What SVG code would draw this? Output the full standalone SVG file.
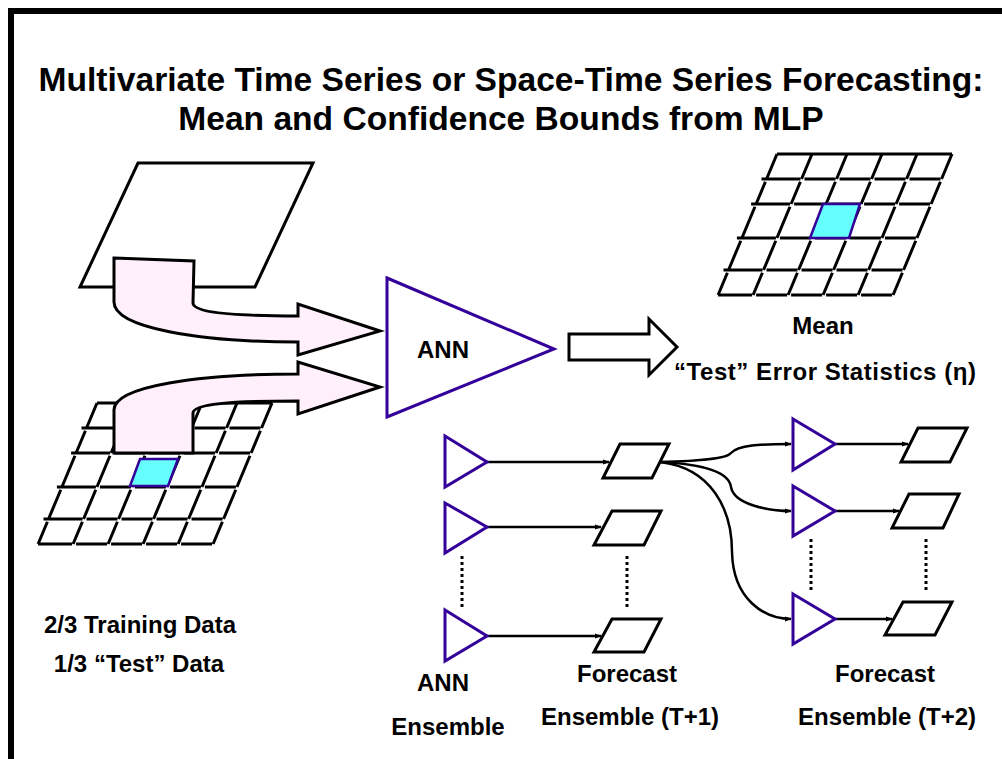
<svg xmlns="http://www.w3.org/2000/svg" xmlns:xlink="http://www.w3.org/1999/xlink" width="1002" height="759" viewBox="0 0 1002 759">
  <style>
    text { font-family: "Liberation Sans", Arial, sans-serif; font-weight: bold; fill: #000; }
    .title { font-size: 33.6px; text-anchor: middle; }
    .lbl { font-size: 24px; text-anchor: middle; }
    .gridrow { fill: none; stroke: #000; stroke-width: 3; stroke-dasharray: 39 4 31 4 31 4 31 4 31 9; }
    .gridrow-last { fill: none; stroke: #000; stroke-width: 3; stroke-dasharray: 34 4 31 4 31 4 31 4 31 9; }
    .gridcol { fill: none; stroke: #000; stroke-width: 3; stroke-dasharray: 27.1 3 24.1 3 33.8 3 31.7 3 24.1 3; }
    .gridtop { fill: none; stroke: #000; stroke-width: 3; }
    .cell { fill: #66FFFF; stroke: #330099; stroke-width: 2.5; }
    .sheet { fill: #fff; stroke: #000; stroke-width: 3; stroke-linejoin: miter; }
    .neuron { fill: #fff; stroke: #330099; stroke-width: 3; }
    .flow { fill: #FFF0FC; stroke: #000; stroke-width: 3; stroke-linejoin: miter; }
    .hollow { fill: #fff; stroke: #000; stroke-width: 3; }
    .link { fill: none; stroke: #000; stroke-width: 2.5; marker-end: url(#ah); }
    .dots { fill: none; stroke: #000; stroke-width: 3; stroke-dasharray: 3 3; }
  </style>
  <defs>
    <marker id="ah" markerWidth="8" markerHeight="8" refX="6" refY="4" orient="auto" markerUnits="userSpaceOnUse">
      <path d="M0,1.5 L7,4 L0,6.5 Z" fill="#000"/>
    </marker>
    <!-- 5x5 slanted field grid, origin at top-left corner -->
    <g id="grid">
      <path class="gridtop" d="M0,0 H175"/>
      <path class="gridrow" d="M-15.5,25 h180"/>
      <path class="gridrow" d="M-25.9,50 h180"/>
      <path class="gridrow" d="M-40.1,84 h180"/>
      <path class="gridrow" d="M-53.5,116 h180"/>
      <path class="gridrow-last" d="M-58.9,141 h180"/>
      <path class="gridcol" d="M0,0 l-58.9,141"/>
      <path class="gridcol" d="M35,0 l-58.9,141"/>
      <path class="gridcol" d="M70,0 l-58.9,141"/>
      <path class="gridcol" d="M105,0 l-58.9,141"/>
      <path class="gridcol" d="M140,0 l-58.9,141"/>
      <path class="gridcol" d="M175,0 l-58.9,141"/>
    </g>
  </defs>

  <rect width="1002" height="759" fill="#fff"/>
  <!-- frame -->
  <rect x="11" y="11" width="1010" height="780" fill="none" stroke="#000" stroke-width="6"/>

  <!-- title -->
  <text class="title" x="511" y="91">Multivariate Time Series or Space-Time Series Forecasting:</text>
  <text class="title" x="501" y="130">Mean and Confidence Bounds from MLP</text>

  <!-- input data sheet -->
  <g id="input-sheet">
    <polygon class="sheet" points="138,163 313,163 255,287 80,287"/>
  </g>

  <!-- input data grid -->
  <g id="input-grid">
    <use xlink:href="#grid" href="#grid" transform="translate(97,403)"/>
    <polygon class="cell" points="140,459 178,459 168,486 130,486"/>
  </g>

  <!-- flows into the network -->
  <g id="flow-upper">
    <path class="flow" d="M114,258 L194,261 L193,303 C193,312 230,316 298,316 L298,304 L380,331 L298,355 L298,342 C200,342 114,328 114,302 Z"/>
  </g>
  <g id="flow-lower">
    <path class="flow" d="M114,453 L114,410 C114,386 200,374 298,374 L298,362 L380,387 L298,414 L298,401 C230,401 193,404 193,413 L193,453 Z"/>
  </g>

  <!-- main network -->
  <g id="ann">
    <polygon class="neuron" points="387,278 554,349 387,417"/>
    <text class="lbl" x="443" y="358">ANN</text>
  </g>

  <!-- output arrow -->
  <g id="out-arrow">
    <path class="hollow" d="M569,334 L649,334 L649,319 L677,347 L649,375 L649,360 L569,360 Z"/>
  </g>

  <!-- mean output grid -->
  <g id="mean-grid">
    <use xlink:href="#grid" href="#grid" transform="translate(777,154)"/>
    <polygon class="cell" points="823,204 860,204 849,238 810,238"/>
    <text class="lbl" x="823" y="334">Mean</text>
  </g>

  <text class="lbl" x="976" y="380" style="text-anchor:end" textLength="302" lengthAdjust="spacing">“Test” Error Statistics (η)</text>

  <!-- data split labels -->
  <text class="lbl" x="140" y="633">2/3 Training Data</text>
  <text class="lbl" x="139" y="672">1/3 “Test” Data</text>

  <!-- connectors -->
  <g id="connectors">
    <path class="link" d="M487,462 H609"/>
    <path class="link" d="M487,527 H601"/>
    <path class="link" d="M487,636 H601"/>
    <path class="link" d="M835,444 H908"/>
    <path class="link" d="M835,511 H899"/>
    <path class="link" d="M835,619 H892"/>
    <path class="link" d="M660,462 C700,461 726,459 731,453 C738,445 760,444 791,444"/>
    <path class="link" d="M660,462 C700,464 729,471 731,487 C734,505 770,511 791,511"/>
    <path class="link" d="M660,462 C712,468 732,510 732,552 C733,600 765,619 791,619"/>
    <path class="dots" d="M462,556 V609"/>
    <path class="dots" d="M627,556 V609"/>
    <path class="dots" d="M811,539 V593"/>
    <path class="dots" d="M926,539 V593"/>
  </g>

  <!-- ANN ensemble -->
  <g id="ens-ann-1"><polygon class="neuron" points="445,436 487,462 445,487"/></g>
  <g id="ens-ann-2"><polygon class="neuron" points="445,503 487,527 445,553"/></g>
  <g id="ens-ann-n"><polygon class="neuron" points="445,610 487,636 445,661"/></g>

  <!-- forecast ensemble T+1 -->
  <g id="fc1-1"><polygon class="sheet" points="620,444 669,444 652,478 603,478"/></g>
  <g id="fc1-2"><polygon class="sheet" points="612,511 661,511 644,545 594,545"/></g>
  <g id="fc1-n"><polygon class="sheet" points="612,619 661,619 644,652 594,652"/></g>

  <!-- second-step networks -->
  <g id="ann2-1"><polygon class="neuron" points="793,419 835,444 793,470"/></g>
  <g id="ann2-2"><polygon class="neuron" points="793,486 835,511 793,536"/></g>
  <g id="ann2-n"><polygon class="neuron" points="793,594 835,619 793,644"/></g>

  <!-- forecast ensemble T+2 -->
  <g id="fc2-1"><polygon class="sheet" points="918,428 967,428 950,462 901,462"/></g>
  <g id="fc2-2"><polygon class="sheet" points="909,494 959,494 943,528 892,528"/></g>
  <g id="fc2-n"><polygon class="sheet" points="903,602 952,602 935,635 885,635"/></g>

  <!-- bottom labels -->
  <text class="lbl" x="443" y="691">ANN</text>
  <text class="lbl" x="448" y="735">Ensemble</text>
  <text class="lbl" x="627" y="682">Forecast</text>
  <text class="lbl" x="630" y="725">Ensemble (T+1)</text>
  <text class="lbl" x="885" y="682">Forecast</text>
  <text class="lbl" x="887" y="725">Ensemble (T+2)</text>
</svg>
